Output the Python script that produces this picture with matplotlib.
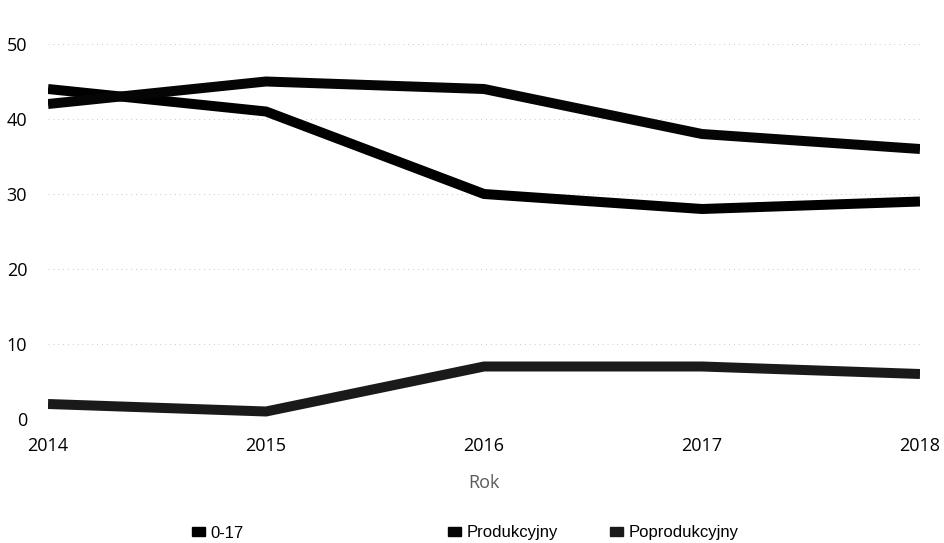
import matplotlib
matplotlib.use("Agg")
import matplotlib.pyplot as plt
from matplotlib.patches import Patch

# Data
years = [2014, 2015, 2016, 2017, 2018]
age_0_17 = [44, 41, 30, 28, 29]
produkcyjny = [42, 45, 44, 38, 36]
poprodukcyjny = [2, 1, 7, 7, 6]
series_labels = ["0-17", "Produkcyjny", "Poprodukcyjny"]
y_ticks = [0, 10, 20, 30, 40, 50]

fig = plt.figure(figsize=(9.45, 5.43), dpi=100)
ax = fig.add_axes([48 / 945, 1 - 419 / 543, (920 - 48) / 945, (419 - 44) / 543])

line_kw = dict(linewidth=7.2, solid_capstyle="butt", solid_joinstyle="round")
ax.plot(years, age_0_17, color="#000000", **line_kw)
ax.plot(years, produkcyjny, color="#050505", **line_kw)
ax.plot(years, poprodukcyjny, color="#1a1a1a", **line_kw)

ax.set_xlim(2014, 2018)
ax.set_ylim(0, 50)
ax.set_xticks(years)
ax.set_xticklabels([str(y) for y in years], fontfamily="Open Sans", fontsize=13)
ax.set_yticks(y_ticks)
ax.set_yticklabels([str(v) for v in y_ticks], fontfamily="Open Sans", fontsize=13)
ax.tick_params(axis="both", length=0)
ax.tick_params(axis="y", pad=15)
ax.tick_params(axis="x", pad=13)

ax.grid(axis="y", color="#c8c8c8", linestyle=(0, (1, 4)), linewidth=0.7)
ax.set_axisbelow(True)
for s in ax.spines.values():
    s.set_visible(False)

ax.set_xlabel("Rok", fontfamily="Open Sans", fontsize=13, color="#5a5a5a", labelpad=14)

# Legend entries placed at the positions seen in the reference
legend_x = [192, 448, 610]
colors = ["#000000", "#050505", "#1a1a1a"]
for lx, lab, col in zip(legend_x, series_labels, colors):
    leg = fig.legend([Patch(facecolor=col, edgecolor=col)], [lab],
                     loc="center left", bbox_to_anchor=(lx / 945, 10 / 543),
                     frameon=False, borderpad=0, borderaxespad=0,
                     handlelength=0.8, handleheight=0.5, handletextpad=0.3,
                     prop={"family": "Liberation Sans", "size": 12})

fig.savefig("out.png", dpi=100)
